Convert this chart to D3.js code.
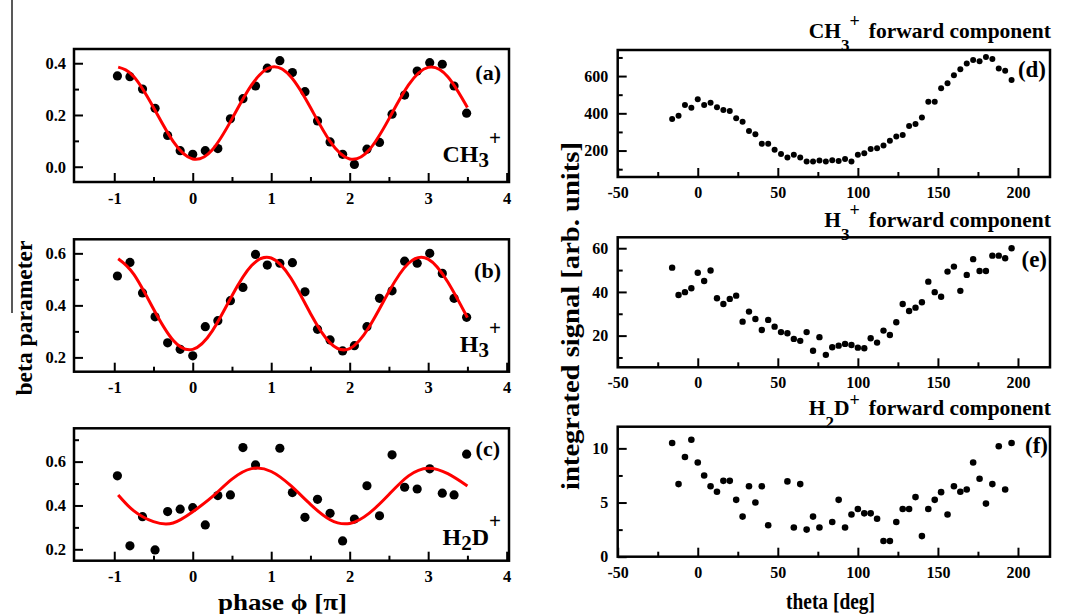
<!DOCTYPE html>
<html lang="en">
<head>
<meta charset="UTF-8">
<title>beta parameter / forward component</title>
<style>
  body { margin: 0; background: #fff; }
  svg { display: block; font-family: "Liberation Serif", "DejaVu Serif", serif; font-weight: bold; }
  .frame { fill: none; stroke: #000; stroke-width: 2.5px; }
  .axis path { display: none; }
  .axis line { stroke: #000; stroke-width: 2px; }
  .axis text { font-family: "Liberation Serif", serif; font-weight: bold; fill: #000; }
  .fit { fill: none; stroke: #f00; stroke-width: 3px; }
  .dot { fill: #000; }
</style>
</head>
<body>
<svg width="1072" height="614"></svg>
<script src="https://d3js.org/d3.v7.min.js"></script>
<script>
// ---- left column: beta parameter vs phase (units of pi) ----
const phase  = [-0.96,-0.80,-0.64,-0.48,-0.32,-0.16,0.00,0.16,0.32,0.48,0.64,0.80,0.95,1.11,1.27,1.43,1.59,1.75,1.91,2.06,2.22,2.38,2.54,2.70,2.86,3.02,3.18,3.33,3.49];
const betaA  = [0.351,0.348,0.300,0.226,0.121,0.062,0.048,0.062,0.070,0.185,0.263,0.312,0.381,0.410,0.364,0.290,0.177,0.096,0.048,0.009,0.068,0.094,0.203,0.277,0.370,0.402,0.396,0.312,0.207];
const betaB  = [0.513,0.565,0.448,0.356,0.256,0.231,0.206,0.318,0.341,0.418,0.469,0.596,0.555,0.562,0.564,0.452,0.308,0.267,0.225,0.245,0.318,0.427,0.456,0.570,0.562,0.600,0.523,0.427,0.354];
const phaseC = [-0.96,-0.80,-0.64,-0.48,-0.32,-0.16,0.00,0.16,0.32,0.48,0.64,0.80,1.11,1.27,1.43,1.59,1.75,1.91,2.06,2.22,2.38,2.54,2.70,2.86,3.02,3.18,3.33,3.49];
const betaC  = [0.535,0.216,0.349,0.197,0.372,0.383,0.390,0.311,0.445,0.448,0.664,0.585,0.661,0.459,0.346,0.428,0.364,0.238,0.338,0.490,0.353,0.631,0.483,0.475,0.567,0.456,0.448,0.634];

// fitted curves
const fitPhase = [-0.95,-0.75,-0.5,-0.25,0,0.25,0.5,0.75,1,1.25,1.5,1.75,2,2.25,2.5,2.75,3,3.25,3.5];
const fitA = [0.385,0.348,0.229,0.098,0.030,0.066,0.185,0.316,0.385,0.348,0.229,0.098,0.030,0.066,0.185,0.316,0.384,0.348,0.229];
const fitB = [0.579,0.519,0.386,0.266,0.231,0.302,0.437,0.553,0.582,0.505,0.369,0.256,0.234,0.318,0.453,0.562,0.578,0.490,0.353];
const fitC = [0.448,0.375,0.326,0.320,0.371,0.440,0.520,0.568,0.555,0.490,0.405,0.335,0.318,0.365,0.450,0.535,0.570,0.545,0.489];

// ---- right column: integrated signal vs theta ----
const theta = [-16,-12,-8,-4,0,4,8,12,16,20,24,28,32,36,40,44,48,52,56,60,64,68,72,76,80,84,88,92,96,100,104,108,112,116,120,124,128,132,136,140,144,148,152,156,160,164,168,172,176,180,184,188,192,196];
const signalD = [370,387,445,430,475,445,457,432,418,413,373,355,305,288,236,236,204,182,163,177,163,141,141,146,141,148,144,154,141,177,186,209,213,227,252,275,284,332,343,377,462,462,534,561,605,636,668,686,680,703,691,641,628,579];
const signalE = [51.1,38.6,39.9,41.7,48.8,45.0,49.8,37.1,34.5,36.8,38.3,26.4,31.0,27.6,22.6,27.2,24.1,21.6,21.1,18.5,17.6,21.6,13.1,19.3,11.2,14.7,15.4,16.2,15.7,14.5,14.2,18.8,16.8,22.3,20.3,26.1,34.5,31.3,32.8,35.3,44.7,39.9,37.8,49.3,51.6,40.5,47.8,55.0,49.6,49.6,56.6,56.6,55.4,60.0];
const thetaF = [-16,-12,-8,-4,0,4,8,12,16,20,24,28,32,36,40,44,56,60,64,68,72,76,84,88,92,96,100,104,108,112,116,120,124,128,132,136,140,144,148,152,156,160,164,168,172,176,180,184,188,192,196];
const signalF = [10.5,6.7,9.2,10.8,8.7,7.5,6.5,6.0,7.0,7.0,5.25,3.7,6.5,5.0,6.5,2.9,6.95,2.7,6.7,2.5,3.7,2.7,3.2,5.25,2.7,3.9,4.4,4.0,4.0,3.5,1.45,1.45,3.2,4.4,4.4,5.5,1.9,4.4,5.25,5.96,3.9,6.5,6.0,6.2,8.7,7.2,4.9,6.7,10.2,6.2,10.5];

// tick values
const phaseMajor = [-1,0,1,2,3,4];
const phaseMinor = [-0.5,0.5,1.5,2.5,3.5];
const thetaMajor = [-50,0,50,100,150,200];
const thetaMinor = [-25,25,75,125,175];

const svg = d3.select("svg");
const plain = d => String(d);   // keep the hyphen minus, like the original

function panel(p) {
  const x = d3.scaleLinear().domain(p.xDomain).range([p.left, p.right]);
  const y = d3.scaleLinear().domain(p.yDomain).range([p.bottom, p.top]);
  const g = svg.append("g");

  g.append("g").attr("class", "axis").attr("transform", `translate(0,${p.bottom})`)
    .call(d3.axisBottom(x).tickValues(p.xMinor).tickSize(-5).tickFormat(""));
  g.append("g").attr("class", "axis").attr("transform", `translate(0,${p.bottom})`)
    .call(d3.axisBottom(x).tickValues(p.xMajor).tickSize(-9).tickPadding(p.xPad).tickFormat(plain))
    .selectAll("text").style("font-size", p.fs + "px");

  g.append("g").attr("class", "axis").attr("transform", `translate(${p.left},0)`)
    .call(d3.axisLeft(y).tickValues(p.yMinor).tickSize(-5).tickFormat(""));
  g.append("g").attr("class", "axis").attr("transform", `translate(${p.left},0)`)
    .call(d3.axisLeft(y).tickValues(p.yMajor).tickSize(-9).tickPadding(p.yPad).tickFormat(p.yFmt))
    .selectAll("text").style("font-size", p.fs + "px");

  g.selectAll(".axis").attr("font-family", null).attr("font-size", null);

  g.append("rect").attr("class", "frame")
    .attr("x", p.left).attr("y", p.top)
    .attr("width", p.right - p.left).attr("height", p.bottom - p.top);

  return { x, y, g };
}

function dots(pn, xs, ys, r) {
  pn.g.append("g").selectAll("circle")
    .data(xs.map((v, i) => [v, ys[i]]))
    .join("circle").attr("class", "dot")
    .attr("cx", d => pn.x(d[0])).attr("cy", d => pn.y(d[1])).attr("r", r);
}

function fit(pn, xs, ys) {
  const line = d3.line().x(d => pn.x(d[0])).y(d => pn.y(d[1])).curve(d3.curveNatural);
  pn.g.append("path").attr("class", "fit").attr("d", line(xs.map((v, i) => [v, ys[i]])));
}

// small helper for labels with sub/superscripts: parts = [[text, size, dy, dx]]
function rich(x, y, anchor, parts) {
  const t = svg.append("text").attr("x", x).attr("y", y).attr("text-anchor", anchor);
  parts.forEach(([s, size, dy, dx]) => {
    t.append("tspan").text(s).style("font-size", size + "px")
      .attr("dy", dy || 0).attr("dx", dx || 0);
  });
  return t;
}

// ---------------- left column ----------------
const L = { left: 74, right: 509, xDomain: [-1.513, 4.03], xMajor: phaseMajor, xMinor: phaseMinor,
            xPad: 10, yPad: 8, fs: 16.5, yFmt: d3.format(".1f") };

const pa = panel({ ...L, top: 49, bottom: 182, yDomain: [-0.059, 0.455], yMajor: [0, 0.2, 0.4], yMinor: [0.1, 0.3] });
const pb = panel({ ...L, top: 239.3, bottom: 371.7, yDomain: [0.145, 0.654], yMajor: [0.2, 0.4, 0.6], yMinor: [0.3, 0.5] });
const pc = panel({ ...L, top: 428.3, bottom: 560.7, yDomain: [0.148, 0.752], yMajor: [0.2, 0.4, 0.6], yMinor: [0.3, 0.5, 0.7] });

dots(pa, phase, betaA, 4.6);  fit(pa, fitPhase, fitA);
dots(pb, phase, betaB, 4.6);  fit(pb, fitPhase, fitB);
dots(pc, phaseC, betaC, 4.6); fit(pc, fitPhase, fitC);

rich(501, 80, "end", [["(a)", 22]]);
rich(501, 278, "end", [["(b)", 22]]);
rich(500, 456, "end", [["(c)", 22]]);

rich(501, 162, "end", [["CH", 24], ["3", 21, 5], ["+", 21, -22]]);
rich(501, 352, "end", [["H", 24], ["3", 21, 5], ["+", 21, -22]]);
rich(501, 545, "end", [["H", 24], ["2", 21, 5], ["D", 24, -5], ["+", 21, -17]]);

svg.append("text").attr("x", 218).attr("y", 610).attr("text-anchor", "start")
  .style("font-size", "24px").attr("textLength", 129).attr("lengthAdjust", "spacingAndGlyphs")
  .text("phase \u03d5 [\u03c0]");

svg.append("text").attr("transform", "translate(32,318) rotate(-90)").attr("text-anchor", "middle")
  .style("font-size", "24px").attr("textLength", 155).attr("lengthAdjust", "spacingAndGlyphs")
  .text("beta parameter");

svg.append("line").attr("x1", 12).attr("x2", 12).attr("y1", 0).attr("y2", 313)
  .attr("stroke", "#222").attr("stroke-width", 1.5);

// ---------------- right column ----------------
const R = { left: 617.7, right: 1050, xDomain: [-50, 220], xMajor: thetaMajor, xMinor: thetaMinor,
            xPad: 9.5, yPad: 9.5, fs: 16, yFmt: plain };

const pd = panel({ ...R, top: 50, bottom: 177, yDomain: [58, 740], yMajor: [200, 400, 600], yMinor: [100, 300, 500, 700] });
const pe = panel({ ...R, top: 237.3, bottom: 367.3, yDomain: [5.5, 65], yMajor: [20, 40, 60], yMinor: [10, 30, 50] });
const pf = panel({ ...R, top: 426.7, bottom: 556.7, yDomain: [0, 12], yMajor: [0, 5, 10], yMinor: [2.5, 7.5] });

dots(pd, theta, signalD, 3);
dots(pe, theta, signalE, 3.2);
dots(pf, thetaF, signalF, 3.3);

rich(1046, 77, "end", [["(d)", 23]]);
rich(1047, 267, "end", [["(e)", 23]]);
rich(1048, 453, "end", [["(f)", 23]]);

rich(1051, 38, "end", [["CH", 21.5], ["3", 17, 13], ["+", 18, -24], ["forward component", 21.5, 11, 9]]);
rich(1051, 227, "end", [["H", 21.5], ["3", 17, 13], ["+", 18, -24], ["forward component", 21.5, 11, 9]]);
rich(1051, 415, "end", [["H", 21.5], ["2", 17, 13], ["D", 21.5, -13], ["+", 18, -9], ["forward component", 21.5, 9, 9]]);

svg.append("text").attr("x", 786).attr("y", 609).attr("text-anchor", "start")
  .style("font-size", "23px").attr("textLength", 89).attr("lengthAdjust", "spacingAndGlyphs")
  .text("theta [deg]");

svg.append("text").attr("transform", "translate(579,316) rotate(-90)").attr("text-anchor", "middle")
  .style("font-size", "25px").attr("textLength", 348).attr("lengthAdjust", "spacingAndGlyphs")
  .text("integrated signal [arb. units]");
</script>
</body>
</html>
